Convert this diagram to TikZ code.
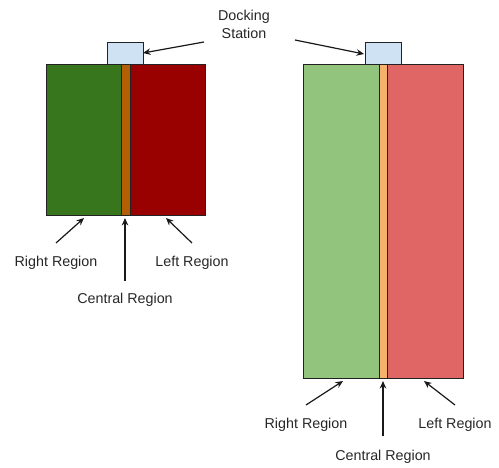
\documentclass[tikz,border=0pt]{standalone}
\usepackage{fontspec}
\setmainfont{Liberation Sans}
\usetikzlibrary{arrows.meta}
\definecolor{dkgreen}{HTML}{38761D}
\definecolor{dkred}{HTML}{990000}
\definecolor{dkorange}{HTML}{B45F06}
\definecolor{ltgreen}{HTML}{93C47D}
\definecolor{ltred}{HTML}{E06666}
\definecolor{ltorange}{HTML}{F6B26B}
\definecolor{dockblue}{HTML}{CFE2F3}
\definecolor{edge}{HTML}{222222}
\tikzset{
  part/.style={draw=edge, line width=1pt},
  lbl/.style={font=\fontsize{14.3}{18}\selectfont, text=black!85, inner sep=0pt},
  pointer/.style={draw=black!90, line width=1.2pt, -{Stealth[length=7.5pt,width=6.5pt]}}
}
\begin{document}
\begin{tikzpicture}[x=1pt,y=-1pt]
\useasboundingbox (0,0) rectangle (499,468);
% small unit
\path[part,fill=dkgreen] (46,65) rectangle (121,216);
\path[part,fill=dkorange] (121,65) rectangle (130,216);
\path[part,fill=dkred] (130,65) rectangle (205,216);
\path[part,fill=dockblue] (107,43) rectangle (143,65);
\coordinate (dockA) at (143,53);
\coordinate (rgA) at (84,218);
\coordinate (cgA) at (125,218);
\coordinate (lgA) at (166,218);
% large unit
\path[part,fill=ltgreen] (303,65) rectangle (379,379);
\path[part,fill=ltorange] (379,65) rectangle (387,379);
\path[part,fill=ltred] (387,65) rectangle (463,379);
\path[part,fill=dockblue] (365,43) rectangle (401,65);
\coordinate (dockB) at (364,54);
\coordinate (rgB) at (343,381);
\coordinate (cgB) at (383,381);
\coordinate (lgB) at (424,381);
% labels
\node[lbl, align=center] (dock) at (244,24) {Docking\\Station};
\node[lbl] (rA) at (56,263) {Right Region};
\node[lbl] (lA) at (192,263) {Left Region};
\node[lbl] (cA) at (125,300) {Central Region};
\node[lbl] (rB) at (306,425) {Right Region};
\node[lbl] (lB) at (455,425) {Left Region};
\node[lbl] (cB) at (383,457) {Central Region};
% tails of the pointers
\coordinate (tDockA) at (204,42);
\coordinate (tDockB) at (295,40);
\coordinate (trA) at (56,243);
\coordinate (tlA) at (192,243);
\coordinate (tcA) at (125,281);
\coordinate (trB) at (306,405);
\coordinate (tlB) at (455,405);
\coordinate (tcB) at (383,436);
% pointers
\draw[pointer] (tDockA) -- (dockA);
\draw[pointer] (tDockB) -- (dockB);
\draw[pointer] (trA) -- (rgA);
\draw[pointer] (tlA) -- (lgA);
\draw[pointer] (tcA) -- (cgA);
\draw[pointer] (trB) -- (rgB);
\draw[pointer] (tlB) -- (lgB);
\draw[pointer] (tcB) -- (cgB);
\end{tikzpicture}
\end{document}
